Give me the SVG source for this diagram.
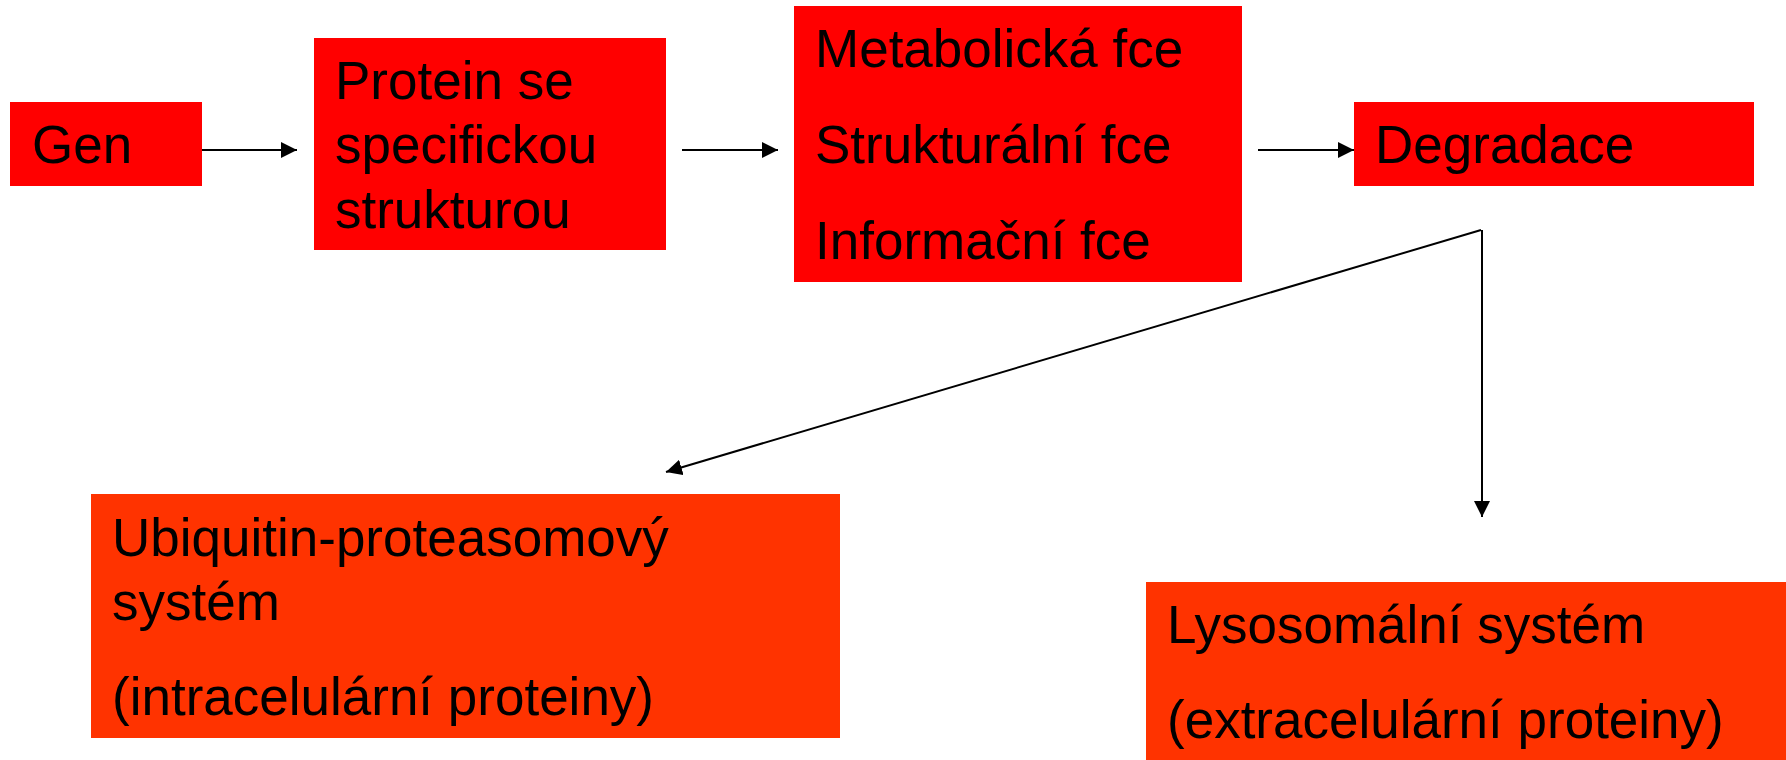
<svg xmlns="http://www.w3.org/2000/svg" width="1786" height="760" viewBox="0 0 1786 760">
<style>
.box1{fill:#FF0000}
.box2{fill:#FF3300}
.t{font-family:"Liberation Sans",Arial,sans-serif;font-size:53px;fill:#000}
.c{stroke:#000;stroke-width:2;fill:none}
</style>
<defs>
<marker id="ah" markerWidth="16" markerHeight="16" refX="16" refY="8" orient="auto" markerUnits="userSpaceOnUse">
<path d="M0,0 L16,8 L0,16 Z" fill="#000"/>
</marker>
</defs>
<rect width="1786" height="760" fill="#fff"/>
<g id="gen"><rect class="box1" x="10" y="102" width="192" height="84"/><text class="t" x="32" y="163">Gen</text></g>
<g id="protein"><rect class="box1" x="314" y="38" width="352" height="212"/>
<text class="t" x="335" y="99">Protein se</text><text class="t" x="335" y="163">specifickou</text><text class="t" x="335" y="228">strukturou</text></g>
<g id="funkce"><rect class="box1" x="794" y="6" width="448" height="276"/>
<text class="t" x="815" y="67">Metabolická fce</text><text class="t" x="815" y="163">Strukturální fce</text><text class="t" x="815" y="259">Informační fce</text></g>
<g id="degradace"><rect class="box1" x="1354" y="102" width="400" height="84"/><text class="t" x="1375" y="163">Degradace</text></g>
<g id="ubiquitin"><rect class="box2" x="91" y="494" width="749" height="244"/>
<text class="t" x="112" y="556">Ubiquitin-proteasomový</text><text class="t" x="112" y="620">systém</text><text class="t" x="112" y="715">(intracelulární proteiny)</text></g>
<g id="lysosom"><rect class="box2" x="1146" y="582" width="640" height="178"/>
<text class="t" x="1167" y="643">Lysosomální systém</text><text class="t" x="1167" y="738">(extracelulární proteiny)</text></g>
<g id="connectors">
<line class="c" x1="202" y1="150" x2="297" y2="150" marker-end="url(#ah)"/>
<line class="c" x1="682" y1="150" x2="778" y2="150" marker-end="url(#ah)"/>
<line class="c" x1="1258" y1="150" x2="1354" y2="150" marker-end="url(#ah)"/>
<line class="c" x1="1481" y1="230" x2="666" y2="472" marker-end="url(#ah)"/>
<line class="c" x1="1482" y1="230" x2="1482" y2="517" marker-end="url(#ah)"/>
</g>
</svg>
